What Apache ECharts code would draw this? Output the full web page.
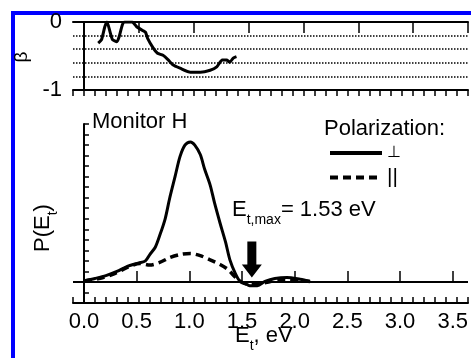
<!DOCTYPE html>
<html>
<head>
<meta charset="utf-8">
<script src="https://cdn.jsdelivr.net/npm/echarts@6/dist/echarts.min.js"></script>
<style>
  html, body { margin: 0; padding: 0; overflow: hidden; background: #fff; }
  #chart { position: absolute; left: 0; top: 0; width: 471px; height: 358px; }
</style>
</head>
<body>
<div id="chart"></div>
<script>
// beta (anisotropy) vs translational energy, top panel
const betaE = [0.13, 0.16, 0.19, 0.21, 0.24, 0.26, 0.30, 0.32, 0.35, 0.37, 0.44, 0.48, 0.53, 0.56, 0.58,
  0.63, 0.67, 0.72, 0.77, 0.81, 0.875, 0.97, 1.06, 1.15, 1.21, 1.26, 1.30, 1.33, 1.36, 1.39];
const betaVal = [-0.31, -0.26, -0.07, 0.0, -0.16, -0.26, -0.29, -0.22, -0.04, 0.0, 0.0, -0.07, -0.12, -0.15, -0.24,
  -0.38, -0.46, -0.49, -0.56, -0.63, -0.68, -0.74, -0.74, -0.71, -0.66, -0.56, -0.56, -0.59, -0.53, -0.51];

// P(Et), perpendicular polarization (solid)
const perpE = [0.0, 0.10, 0.20, 0.30, 0.40, 0.50, 0.56, 0.60, 0.65, 0.69, 0.74, 0.78, 0.83, 0.875, 0.92, 0.97,
  1.01, 1.06, 1.10, 1.15, 1.19, 1.24, 1.29, 1.33, 1.38, 1.42, 1.47, 1.51, 1.58, 1.65, 1.74, 1.85, 1.97, 2.06];
const perpP = [0.1, 0.33, 0.6, 1.0, 1.5, 1.8, 2.0, 2.6, 3.3, 4.4, 6.0, 7.9, 10.0, 11.9, 13.0, 13.3,
  13.0, 12.1, 10.7, 9.2, 7.5, 5.6, 3.8, 2.1, 0.8, 0.1, -0.15, -0.35, -0.35, 0.05, 0.33, 0.43, 0.25, 0.05];

// P(Et), parallel polarization (dashed)
const parE = [0.0, 0.15, 0.28, 0.40, 0.51, 0.60, 0.69, 0.78, 0.875, 0.97, 1.06, 1.15, 1.24, 1.31, 1.38,
  1.44, 1.51, 1.60, 1.70, 1.83, 1.97, 2.06];
const parP = [0.1, 0.35, 0.8, 1.4, 1.75, 1.6, 1.85, 2.3, 2.6, 2.7, 2.5, 2.1, 1.65, 1.2, 0.45,
  -0.05, -0.25, -0.2, 0.05, 0.25, 0.15, 0.05];

const seriesNames = ['\u22A5', '||'];
const etMax = 1.53;
const arrowTipP = 0.43;

const zip = (xs, ys) => xs.map((x, i) => [x, ys[i]]);

const FONT = '"Liberation Sans", Arial, sans-serif';
const xMin = -0.1, xMax = 3.5;
const plotLeft = 73, plotRight = 468;
const pxPerE = (plotRight - plotLeft) / (xMax - xMin);
const majorLeft = plotLeft + (0 - xMin) * pxPerE;
const rightGap = 471 - plotRight;

const blackLine = { show: true, lineStyle: { color: '#000', width: 2 } };
const subRich = {
  m: { fontSize: 22, lineHeight: 28, verticalAlign: 'top', fontFamily: FONT, fill: '#000' },
  s: { fontSize: 14, lineHeight: 14, verticalAlign: 'bottom', fontFamily: FONT, fill: '#000' }
};

const chart = echarts.init(document.getElementById('chart'), null, { renderer: 'canvas' });

const option = {
  animation: false,
  backgroundColor: '#fff',
  textStyle: { fontFamily: FONT, color: '#000' },
  grid: [
    { left: plotLeft, right: rightGap, top: 22, height: 68 },
    { left: majorLeft, right: rightGap, top: 22, height: 68 },
    { left: plotLeft, right: rightGap, top: 124, height: 179 },
    { left: majorLeft, right: rightGap, top: 124, height: 179 }
  ],
  xAxis: [
    { gridIndex: 0, type: 'value', min: xMin, max: xMax, interval: 0.1,
      axisLine: { onZero: false, lineStyle: { color: '#000', width: 2 } },
      axisTick: { show: true, length: 6, lineStyle: { color: '#000', width: 1.5 } },
      axisLabel: { show: false }, splitLine: { show: false } },
    { gridIndex: 0, type: 'value', position: 'top', min: xMin, max: xMax, interval: 0.1,
      axisLine: { onZero: false, lineStyle: { color: '#000', width: 2 } },
      axisTick: { show: false }, axisLabel: { show: false }, splitLine: { show: false } },
    { gridIndex: 1, type: 'value', min: 0, max: xMax, interval: 0.5,
      axisLine: { show: false },
      axisTick: { show: true, length: 11, lineStyle: { color: '#000', width: 1.5 } },
      axisLabel: { show: false }, splitLine: { show: false } },
    { gridIndex: 2, type: 'value', min: xMin, max: xMax, interval: 0.1,
      axisLine: { onZero: false, lineStyle: { color: '#000', width: 2 } },
      axisTick: { show: true, inside: true, length: 6, lineStyle: { color: '#000', width: 1.5 } },
      axisLabel: { show: false }, splitLine: { show: false } },
    { gridIndex: 3, type: 'value', min: 0, max: xMax, interval: 0.5,
      axisLine: { show: false },
      axisTick: { show: true, inside: true, length: 11, lineStyle: { color: '#000', width: 1.5 } },
      axisLabel: { show: true, margin: 8, fontSize: 22, color: '#000', fontFamily: FONT,
        formatter: v => v.toFixed(1) },
      splitLine: { show: false } }
  ],
  yAxis: [
    { gridIndex: 0, type: 'value', min: -1, max: 0, interval: 0.2,
      axisLine: blackLine, axisTick: { show: false },
      axisLabel: { show: true, margin: 11, fontSize: 22, color: '#000', fontFamily: FONT,
        formatter: v => (Math.abs(v) < 1e-9 ? '0' : Math.abs(v + 1) < 1e-9 ? '-1' : '') },
      splitLine: { show: true, showMinLine: false, showMaxLine: false,
        lineStyle: { color: '#000', width: 1.5, type: [1.5, 1.5] } } },
    { gridIndex: 1, type: 'value', min: -1, max: 0, interval: 0.2, show: false },
    { gridIndex: 2, type: 'value', min: -2, max: 15, interval: 1,
      axisLine: blackLine,
      axisTick: { show: true, inside: true, length: 5, lineStyle: { color: '#000', width: 1.5 } },
      axisLabel: { show: false }, splitLine: { show: false } },
    { gridIndex: 3, type: 'value', min: -2, max: 15, interval: 1, show: false }
  ],
  legend: {
    data: seriesNames,
    orient: 'vertical',
    left: 323, top: 140,
    itemWidth: 52, itemHeight: 14, itemGap: 6,
    selectedMode: false,
    itemStyle: { opacity: 0 },
    lineStyle: { width: 4 },
    formatter: name => (name === seriesNames[0] ? '{p|' + name + '}' : '{q|' + name + '}'),
    textStyle: {
      fontSize: 20, color: '#000', fontFamily: FONT,
      rich: {
        p: { fontSize: 16, lineHeight: 20, fontFamily: FONT, color: '#000' },
        q: { fontSize: 21, lineHeight: 20, fontFamily: FONT, color: '#000' }
      }
    }
  },
  series: [
    { type: 'line', xAxisIndex: 0, yAxisIndex: 0, data: zip(betaE, betaVal),
      symbol: 'none', smooth: 0.2, itemStyle: { color: '#000' }, lineStyle: { color: '#000', width: 3 } },
    { name: seriesNames[0], type: 'line', xAxisIndex: 3, yAxisIndex: 2, data: zip(perpE, perpP),
      symbol: 'none', smooth: 0.3, itemStyle: { color: '#000' },
      lineStyle: { color: '#000', width: 3 },
      markLine: { silent: true, symbol: ['none', 'none'], label: { show: false },
        lineStyle: { color: '#000', width: 2, type: 'solid' }, data: [{ yAxis: 0 }] },
      markPoint: { silent: true, label: { show: false },
        symbol: 'path://M5.5,0 L14.5,0 L14.5,23 L20,23 L10,36 L0,23 L5.5,23 Z',
        symbolSize: [20, 36], symbolOffset: [0, '-50%'], itemStyle: { color: '#000' },
        data: [{ coord: [etMax, arrowTipP] }] } },
    { name: seriesNames[1], type: 'line', xAxisIndex: 3, yAxisIndex: 2, data: zip(parE, parP),
      symbol: 'none', smooth: 0.3, itemStyle: { color: '#000' },
      lineStyle: { color: '#000', width: 3.5, type: [8, 5] } }
  ],
  graphic: [
    // blue figure frame (top and left edges)
    { type: 'rect', z: -10, shape: { x: 11, y: 11, width: 460, height: 4 }, style: { fill: '#0000ff' } },
    { type: 'rect', z: -10, shape: { x: 11, y: 11, width: 4, height: 347 }, style: { fill: '#0000ff' } },
    { type: 'text', x: 92, y: 121.5,
      style: { text: 'Monitor H', fontSize: 22, fontFamily: FONT, fill: '#000', verticalAlign: 'middle' } },
    { type: 'text', x: 324, y: 128.5,
      style: { text: 'Polarization:', fontSize: 22, fontFamily: FONT, fill: '#000', verticalAlign: 'middle' } },
    { type: 'text', x: 232, y: 213,
      style: { text: '{m|E}{s|t,max}{m|= ' + etMax.toFixed(2) + ' eV}', verticalAlign: 'middle', rich: subRich } },
    { type: 'text', x: 235, y: 339,
      style: { text: '{m|E}{s|t}{m|, eV}', verticalAlign: 'middle', rich: subRich } },
    { type: 'text', x: 46, y: 228, rotation: Math.PI / 2,
      style: { text: '{m|P(E}{s|t}{m|)}', align: 'center', verticalAlign: 'middle', rich: subRich } },
    { type: 'text', x: 22, y: 57, rotation: Math.PI / 2,
      style: { text: '\u03B2', fontSize: 19, fontFamily: FONT, fill: '#000', align: 'center', verticalAlign: 'middle' } }
  ]
};

chart.setOption(option);
window.addEventListener('resize', () => chart.resize());
</script>
</body>
</html>
